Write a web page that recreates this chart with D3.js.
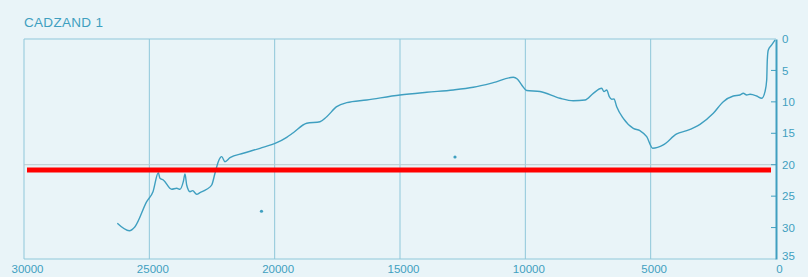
<!DOCTYPE html>
<html><head><meta charset="utf-8">
<script src="https://cdn.jsdelivr.net/npm/d3@7"></script>
<style>
html,body{margin:0;padding:0;background:#e9f4f8;}
svg{display:block;}
text{font-family:"Liberation Sans",Arial,sans-serif;}
</style></head><body>
<svg id="c" width="808" height="277"></svg>
<script>
const title = "CADZAND 1";
const xTicks = [30000, 25000, 20000, 15000, 10000, 5000, 0];
const yTicks = [0, 5, 10, 15, 20, 25, 30, 35];
const distance = [26278,25799,25572,25105,24854,24642,24575,24443,24108,23908,23777,23645,23577,23510,23378,23270,23111,22979,22712,22512,22381,22249,22113,21982,21782,21252,20585,19919,19520,19257,18722,18192,17924,17525,17127,16329,15000,13935,12874,12076,11278,10480,10321,10145,9946,9415,8617,8087,7620,7289,6954,6862,6754,6650,6555,6463,6355,6092,5693,5426,5158,4919,4496,3961,3563,3032,2501,2102,1703,1436,1305,1169,1037,770,570,439,371,347,307,172,40];
const depth = [29.32,30.50,29.86,25.88,24.29,21.27,22.16,22.43,23.91,23.75,23.91,22.70,21.48,23.23,24.29,24.13,24.71,24.45,23.91,23.23,21.36,19.52,18.72,19.52,18.88,18.18,17.39,16.50,15.64,14.91,13.41,13.16,12.36,10.77,10.13,9.70,8.91,8.48,8.11,7.68,6.95,6.09,6.36,7.32,8.19,8.35,9.43,9.82,9.70,8.64,7.84,8.38,8.11,9.18,9.59,9.55,10.77,12.62,14.21,14.59,15.54,17.39,16.86,15.11,14.59,13.57,11.82,9.97,9.07,8.91,8.64,8.91,8.80,9.07,9.43,8.38,6.52,3.34,1.75,0.95,0.16];
const speckDistance = [12806, 20526];
const speckDepth = [18.77, 27.4];
const refDepth = 20.84;      // red reference line
const gridDepth = 20;

const svg = d3.select("#c");
const L = 24, R = 776, T = 39, B = 259;
const x = d3.scaleLinear().domain([30000, 0]).range([L, R]);
const y = d3.scaleLinear().domain([0, 35]).range([T, B]);
const teal = "#3f9fc0", grid = "#8fc7da";

// title
svg.append("text").attr("x", 24).attr("y", 27).attr("fill", teal)
  .attr("font-size", 13.5).attr("letter-spacing", 0.3).text(title);

// frame
svg.append("line").attr("x1", L).attr("x2", R).attr("y1", T).attr("y2", T).attr("stroke", grid).attr("stroke-width", 1);
svg.append("line").attr("x1", L).attr("x2", R).attr("y1", B).attr("y2", B).attr("stroke", grid).attr("stroke-width", 1.2);
// vertical gridlines (incl. left edge)
svg.selectAll(".vg").data(xTicks.filter(d => d !== 0)).join("line")
  .attr("x1", d => x(d)).attr("x2", d => x(d)).attr("y1", T).attr("y2", B)
  .attr("stroke", grid).attr("stroke-width", 1);
// horizontal gridline at 20
svg.append("line").attr("x1", L).attr("x2", R).attr("y1", y(gridDepth)).attr("y2", y(gridDepth))
  .attr("stroke", "#b9c9cf").attr("stroke-width", 1);

// right axis
const yAxis = d3.axisRight(y).tickValues(yTicks).tickSize(0).tickPadding(6);
const ya = svg.append("g").attr("transform", `translate(${R},0)`).call(yAxis);
ya.attr("font-family", null);
ya.select(".domain").attr("stroke", teal).attr("stroke-width", 2);
ya.selectAll("text").attr("fill", teal).attr("font-size", 11.5)
  .attr("dy", d => d === 35 ? "0.05em" : "0.32em");
// inward ticks
svg.selectAll(".yt").data(yTicks.filter(d => d > 0 && d < 35)).join("line")
  .attr("x1", R - 5).attr("x2", R).attr("y1", d => y(d)).attr("y2", d => y(d))
  .attr("stroke", teal).attr("stroke-width", 1);

// bottom axis labels
const xAxis = d3.axisBottom(x).tickValues(xTicks).tickSize(0).tickPadding(6).tickFormat(d3.format("d"));
const xa = svg.append("g").attr("transform", `translate(3,${B})`).call(xAxis);
xa.attr("font-family", null);
xa.select(".domain").remove();
xa.selectAll("text").attr("fill", teal).attr("font-size", 11.5);

// profile
const pts = distance.map((d, i) => [d, depth[i]]);
const line = d3.line().x(d => x(d[0])).y(d => y(d[1])).curve(d3.curveMonotoneX);
svg.append("path").attr("d", line(pts)).attr("fill", "none").attr("stroke", teal).attr("stroke-width", 1.4);

// specks
svg.selectAll(".sp").data(speckDistance.map((d, i) => [d, speckDepth[i]])).join("circle")
  .attr("cx", d => x(d[0])).attr("cy", d => y(d[1])).attr("r", 1.6).attr("fill", teal);

// red reference line
svg.append("line").attr("x1", 27).attr("x2", 771).attr("y1", y(refDepth)).attr("y2", y(refDepth))
  .attr("stroke", "#ff0000").attr("stroke-width", 5);
</script>
</body></html>
